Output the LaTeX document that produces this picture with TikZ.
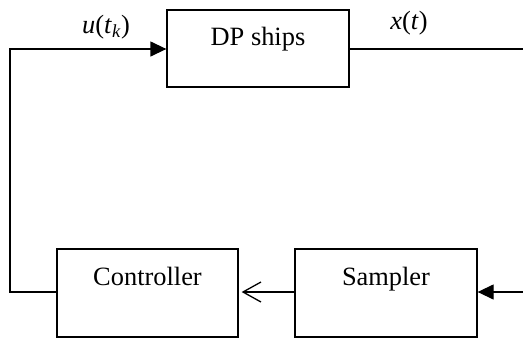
\documentclass[tikz,border=0pt]{standalone}
\usepackage{fontspec}
\setmainfont{Liberation Serif}
\usetikzlibrary{arrows.meta}
\begin{document}
\begin{tikzpicture}[x=1pt,y=1pt,
  blk/.style={draw, line width=1.3pt, inner sep=0pt, font=\fontsize{26.4}{30}\selectfont},
  wire/.style={line width=1.3pt},
  fillarrow/.style={-{Triangle[length=16pt,width=15pt]}},
  openarrow/.style={-{Straight Barb[length=18pt,width=20pt,line width=1.3pt]}},
  lbl/.style={font=\fontsize{26.4}{30}\selectfont, inner sep=0pt}]
\useasboundingbox (0,0) rectangle (523,-338);
\node[blk, minimum width=182pt, minimum height=77pt, text height=20pt, text depth=27pt] (dp) at (258,-48.5) {DP ships};
\node[blk, minimum width=181pt, minimum height=88pt, text height=20pt, text depth=36pt] (ctrl) at (147.5,-293) {Controller};
\node[blk, minimum width=182pt, minimum height=88pt, text height=20pt, text depth=36pt] (samp) at (386,-293) {Sampler};
\coordinate (tl) at (10,-49);
\coordinate (bl) at (10,-292);
\coordinate (tr) at (524,-49);
\coordinate (br) at (524,-292);
\draw[wire, fillarrow] (ctrl.west |- bl) -- (bl) -- (tl) -- (dp.west |- tl);
\draw[wire] (dp.east |- tr) -- (tr);
\draw[wire, fillarrow] (br) -- (samp.east |- br);
\draw[wire, openarrow] (samp.west |- br) -- ([xshift=3pt]ctrl.east |- br);
\node[lbl] (u) at (106,-27) {\textit{u}(\textit{t}\textsubscript{\textit{k}})};
\node[lbl] (x) at (409,-23) {\textit{x}(\textit{t})};
\end{tikzpicture}
\end{document}
